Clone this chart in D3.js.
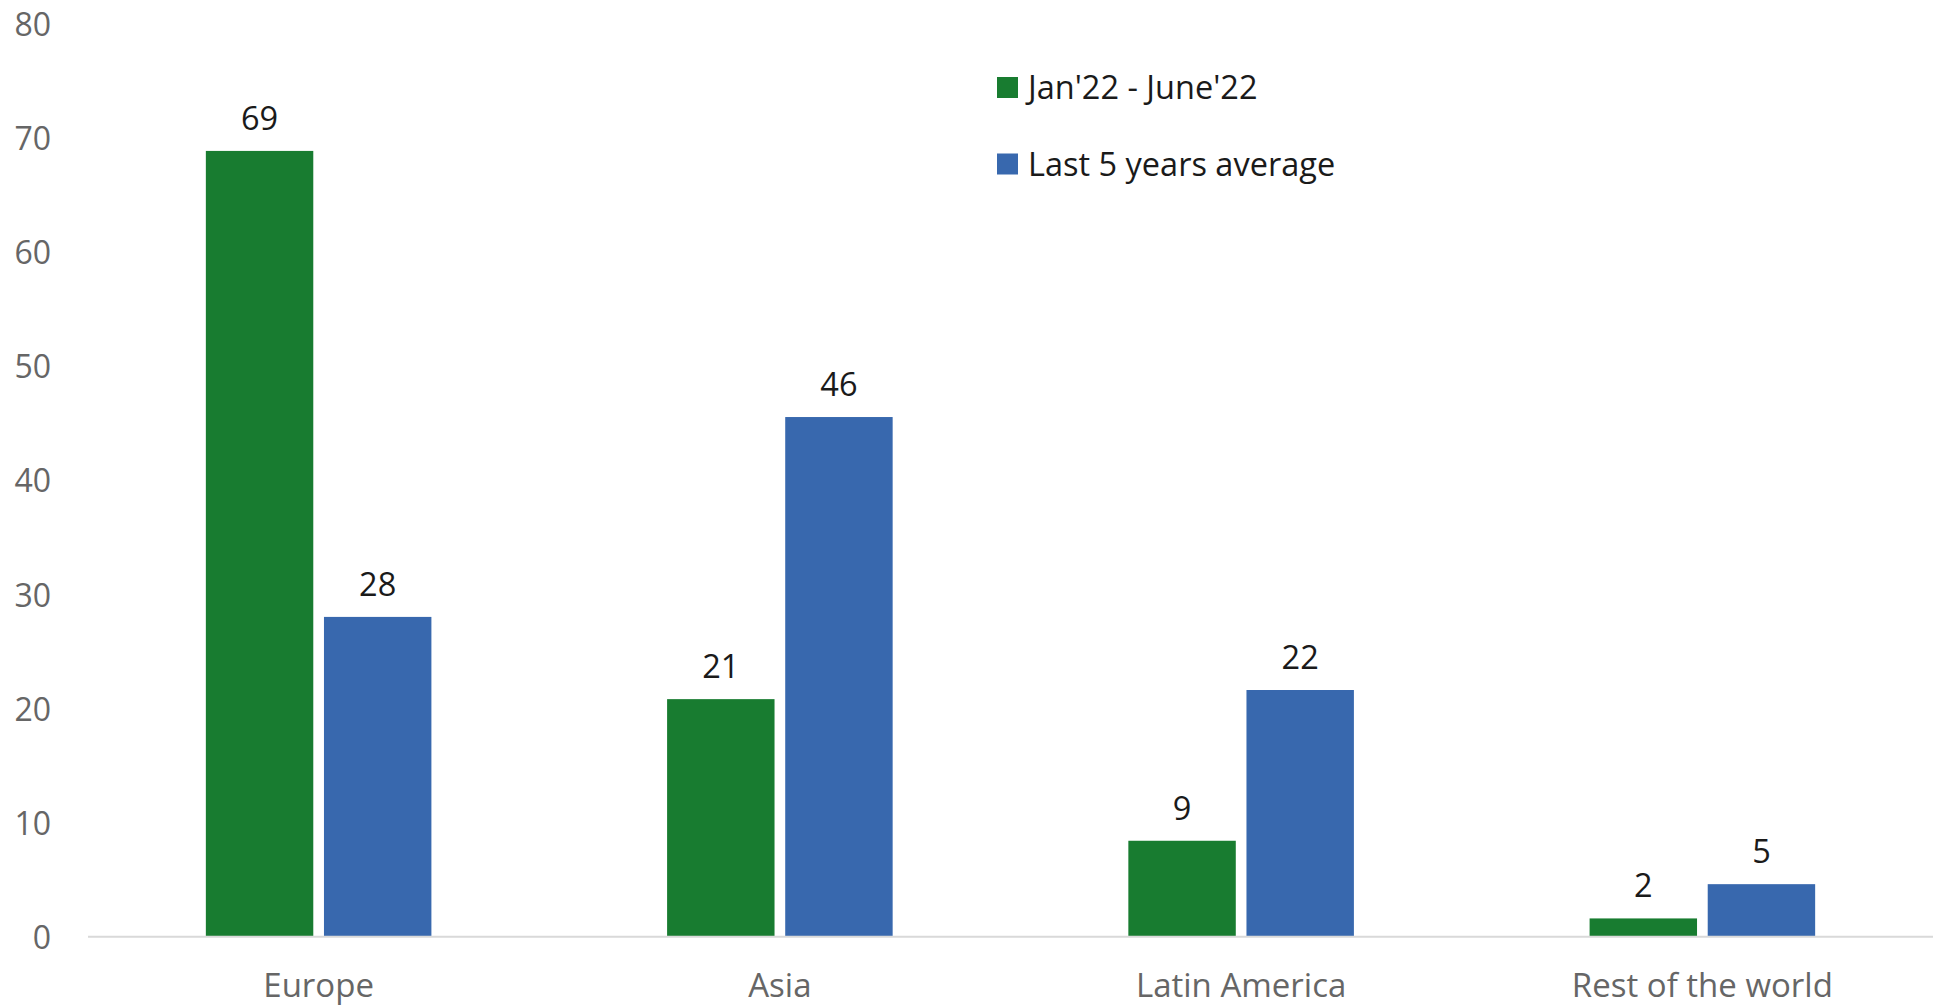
<!DOCTYPE html>
<html>
<head>
<meta charset="utf-8">
<script src="https://cdn.jsdelivr.net/npm/d3@7"></script>
<style>
  body { margin: 0; background: #fff; }
</style>
</head>
<body>
<div id="graph"></div>
<script>
const w = 1942;
const h = 1008;

const regions = ['Europe', 'Asia', 'Latin America', 'Rest of the world'];
const seriesNames = ["Jan'22 - June'22", 'Last 5 years average'];
const jan22 = [68.8, 20.8, 8.4, 1.6];
const fiveYearAvg = [28.0, 45.5, 21.6, 4.6];
const dataLabels = [[69, 21, 9, 2], [28, 46, 22, 5]];
const yTicks = [0, 10, 20, 30, 40, 50, 60, 70, 80];
const colors = ['#187c30', '#3868ae'];

const font = "'Open Sans', 'Noto Sans', sans-serif";

const xScale = d3.scaleBand()
                 .domain(regions)
                 .range([88, 1933])
                 .paddingInner(0.511)
                 .paddingOuter(0.2555);

const subScale = d3.scaleBand()
                   .domain([0, 1])
                   .range([0, xScale.bandwidth()])
                   .paddingInner(0.0905)
                   .paddingOuter(0);

const yScale = d3.scaleLinear()
                 .domain([0, 80])
                 .range([936.7, 23]);

const svg = d3.select('#graph')
              .append('svg')
              .attr('width', w)
              .attr('height', h);

// y tick labels, no axis line
svg.append('g')
   .selectAll('text')
   .data(yTicks)
   .enter()
   .append('text')
   .attr('x', 51)
   .attr('y', (d) => yScale(d))
   .attr('text-anchor', 'end')
   .attr('dominant-baseline', 'central')
   .style('font-family', font)
   .style('font-size', '32px')
   .style('fill', '#666666')
   .text((d) => d);

const series = [jan22, fiveYearAvg];

series.forEach(function (vals, si) {
  svg.append('g')
     .selectAll('rect')
     .data(vals)
     .enter()
     .append('rect')
     .attr('x', (d, i) => xScale(regions[i]) + subScale(si))
     .attr('y', (d) => yScale(d))
     .attr('width', subScale.bandwidth())
     .attr('height', (d) => yScale(0) - yScale(d))
     .attr('fill', colors[si]);

  svg.append('g')
     .selectAll('text')
     .data(vals)
     .enter()
     .append('text')
     .attr('x', (d, i) => xScale(regions[i]) + subScale(si) + subScale.bandwidth() / 2)
     .attr('y', (d) => yScale(d) - 21)
     .attr('text-anchor', 'middle')
     .style('font-family', font)
     .style('font-size', '32.5px')
     .style('fill', '#1a1a1a')
     .text((d, i) => dataLabels[si][i]);
});

// baseline
svg.append('line')
   .attr('x1', 88)
   .attr('x2', 1933)
   .attr('y1', yScale(0))
   .attr('y2', yScale(0))
   .attr('stroke', '#d9d9d9')
   .attr('stroke-width', 2);

// category labels
svg.append('g')
   .selectAll('text')
   .data(regions)
   .enter()
   .append('text')
   .attr('x', (d) => xScale(d) + xScale.bandwidth() / 2)
   .attr('y', 997)
   .attr('text-anchor', 'middle')
   .style('font-family', font)
   .style('font-size', '33px')
   .style('fill', '#666666')
   .text((d) => d);

// legend
const legend = svg.append('g')
                  .selectAll('g')
                  .data(seriesNames)
                  .enter()
                  .append('g')
                  .attr('transform', (d, i) => 'translate(997,' + (77 + i * 76.5) + ')');

legend.append('rect')
      .attr('width', 21)
      .attr('height', 21)
      .attr('fill', (d, i) => colors[i]);

legend.append('text')
      .attr('x', 31)
      .attr('y', 22)
      .style('font-family', font)
      .style('font-size', '32.5px')
      .style('fill', '#1a1a1a')
      .text((d) => d);
</script>
</body>
</html>
